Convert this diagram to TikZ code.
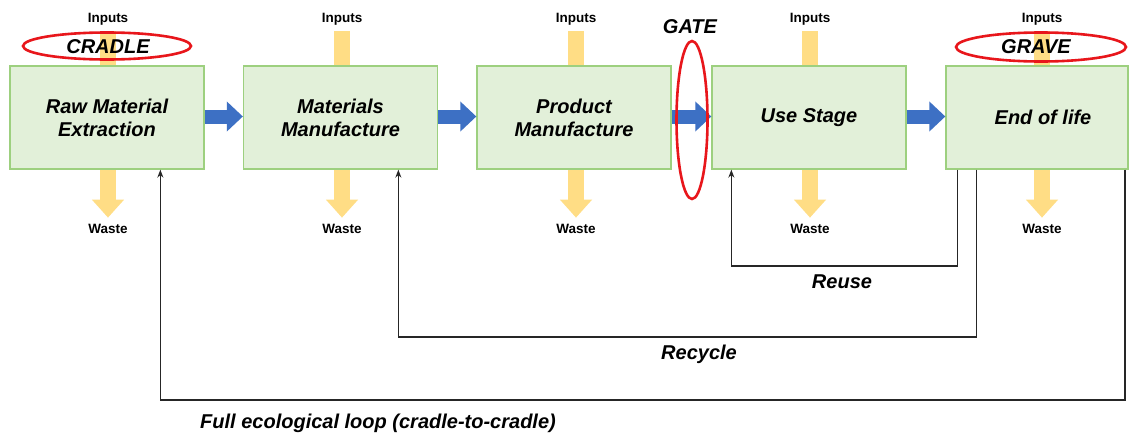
\documentclass[tikz,border=0pt]{standalone}
\usepackage{fontspec}
\setmainfont{Liberation Sans}
\usetikzlibrary{arrows.meta,calc}

\definecolor{stagefill}{HTML}{E2F0D9}
\definecolor{stageline}{HTML}{9DD07F}
\definecolor{flowblue}{HTML}{3D70C4}
\definecolor{flowyellow}{HTML}{FFDD85}
\definecolor{markred}{HTML}{E8161B}

\tikzset{
  stagebox/.style={draw=stageline, line width=1.3pt, fill=stagefill,
    minimum width=194pt, minimum height=103pt, inner sep=0pt,
    align=center, font=\fontsize{20}{23}\selectfont\bfseries\itshape},
  flowarrow/.style={flowblue, line width=14pt,
    -{Triangle[length=16pt,width=29pt]}},
  inbar/.style={flowyellow, line width=16pt},
  wastebar/.style={flowyellow, line width=16pt,
    -{Triangle[length=18pt,width=31pt]}},
  smalllabel/.style={font=\fontsize{13.5}{15}\selectfont\bfseries, inner sep=0pt, anchor=base},
  biglabel/.style={font=\fontsize{20}{23}\selectfont\bfseries\itshape, inner sep=0pt, anchor=base},
  marker/.style={draw=markred, line width=2.6pt},
  backloop/.style={draw=black!85, line width=1.7pt, -{Stealth[length=8pt,width=6pt]}},
}

\begin{document}
\begin{tikzpicture}[x=1pt,y=-1pt]
\useasboundingbox (0,0) rectangle (1129,434);
\fill[white] (0,0) rectangle (1129,434);

% life-cycle stages
\node[stagebox] (b1) at (107,117.5) {Raw Material\\Extraction};
\node[stagebox] (b2) at (340.5,117.5) {Materials\\Manufacture};
\node[stagebox] (b3) at (574,117.5) {Product\\Manufacture};
\node[stagebox] (b4) at (809,117.5) {Use Stage};
\node[stagebox, minimum width=182pt] (b5) at (1037,117.5) {\hspace*{12pt}End of life};

% inputs and waste per stage
\foreach \b/\dx in {b1/1, b2/1.5, b3/2, b4/1, b5/5} {
  \draw[inbar] ($(\b.north)+(\dx,-34)$) -- ($(\b.north)+(\dx,0)$);
  \draw[wastebar] ($(\b.south)+(\dx,0)$) -- ($(\b.south)+(\dx,48)$);
  \node[smalllabel] (in-\b) at ($(\b.north)+(\dx,-43)$) {Inputs};
  \node[smalllabel] (out-\b) at ($(\b.south)+(\dx,64)$) {Waste};
}

% stages redrawn over the yellow bars
\node[stagebox] at (b1) {Raw Material\\Extraction};
\node[stagebox] at (b2) {Materials\\Manufacture};
\node[stagebox] at (b3) {Product\\Manufacture};
\node[stagebox] at (b4) {Use Stage};
\node[stagebox, minimum width=182pt] at (b5) {\hspace*{12pt}End of life};

% forward flow
\draw[flowarrow] ($(b1.east)+(0,-1)$) -- ($(b2.west)+(0,-1)$);
\draw[flowarrow] ($(b2.east)+(0,-1)$) -- ($(b3.west)+(0,-1)$);
\draw[flowarrow] ($(b3.east)+(0,-1)$) -- ($(b4.west)+(0,-1)$);
\draw[flowarrow] ($(b4.east)+(0,-1)$) -- ($(b5.west)+(0,-1)$);

% cradle, gate and grave markers
\draw[marker] (107,46) ellipse [x radius=84, y radius=13.5];
\node[biglabel] (cradle) at (108,53) {CRADLE};
\draw[marker] (692,120) ellipse [x radius=15.5, y radius=79];
\node[biglabel] (gate) at (690,33) {GATE};
\draw[marker] (1041,47) ellipse [x radius=85, y radius=14.5];
\node[biglabel] (grave) at (1036,53) {GRAVE};

% return loops
\draw[backloop] ($(b5.south west)+(12,0)$) -- ++(0,96) -| ($(b4.south west)+(20,0)$);
\draw[backloop] ($(b5.south west)+(31,0)$) -- ++(0,167) -| ($(b2.south west)+(155.5,0)$);
\draw[backloop] ($(b5.south east)+(-4,0)$) -- ++(0,230) -| ($(b1.south west)+(151,0)$);

\node[biglabel] (reuse) at (842,288) {Reuse};
\node[biglabel] (recycle) at (699,359) {Recycle};
\node[biglabel] (full) at (378,428) {Full ecological loop (cradle-to-cradle)};
\end{tikzpicture}
\end{document}
